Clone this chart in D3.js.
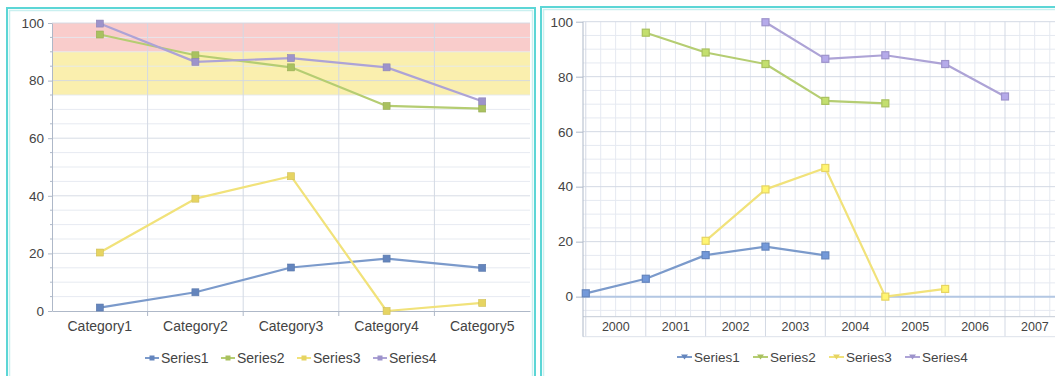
<!DOCTYPE html>
<html>
<head>
<meta charset="utf-8">
<script src="https://cdn.jsdelivr.net/npm/d3@7/dist/d3.min.js"></script>
<style>
  html, body { margin: 0; padding: 0; background: #ffffff; }
  svg { display: block; }
  text { font-family: "Liberation Sans", Arial, sans-serif; fill: #444444; }
</style>
</head>
<body>
<svg id="chart" width="1055" height="376"></svg>
<script>
// Shared data for both panels
const categories = ["Category1", "Category2", "Category3", "Category4", "Category5"];
const seriesNames = ["Series1", "Series2", "Series3", "Series4"];
const series1 = [1.2, 6.5, 15.1, 18.2, 15.0];
const series2 = [96.0, 88.8, 84.6, 71.2, 70.3];
const series3 = [20.3, 39.0, 46.8, 0.0, 2.8];
const series4 = [99.8, 86.5, 87.8, 84.6, 72.8];
const yTicks = [0, 20, 40, 60, 80, 100];
// Year of each series' first point on the dated panel
const seriesStartYear = [2000, 2001, 2002, 2003];
const yearLabels = [2000, 2001, 2002, 2003, 2004, 2005, 2006, 2007];
// Highlighted value ranges on the category panel
const bandLow = [90, 75];
const bandHigh = [100, 90];

const allSeries = [series1, series2, series3, series4];
const lineColors = ["#7b9acb", "#b5cd72", "#f1e27a", "#ada3d6"];
const markColors = ["#6485bd", "#a9c15f", "#e6d462", "#9d93cb"];
const bandColors = ["#f9cccb", "#faefae"];
const minorGrid = "#e5e9f1";
const majorGrid = "#d3d9e4";
const axisColor = "#aeb8c8";

const svg = d3.select("#chart");

// ---------- Left panel: category axis ----------
(function () {
  const left = svg.append("g");
  left.append("rect")
    .attr("x", 7).attr("y", 8).attr("width", 528).attr("height", 380)
    .attr("fill", "#ffffff").attr("stroke", "#5cd6d6").attr("stroke-width", 2);
  left.append("rect")
    .attr("x", 9.5).attr("y", 10.5).attr("width", 523).attr("height", 380)
    .attr("fill", "none").attr("stroke", "#c9f0f0").attr("stroke-width", 1.5);

  const x = d3.scaleBand().domain(categories).range([52, 530]);
  const y = d3.scaleLinear().domain([0, 100]).range([311, 23]);

  // value bands
  left.selectAll("rect.band").data(bandLow).enter().append("rect")
    .attr("class", "band")
    .attr("x", 52).attr("width", 478)
    .attr("y", (d, i) => y(bandHigh[i]))
    .attr("height", (d, i) => y(d) - y(bandHigh[i]))
    .attr("fill", (d, i) => bandColors[i]);

  // horizontal grid every 5
  left.selectAll("line.hg").data(d3.range(5, 101, 5)).enter().append("line")
    .attr("x1", 52).attr("x2", 530)
    .attr("y1", d => y(d)).attr("y2", d => y(d))
    .attr("stroke", d => d % 20 === 0 ? majorGrid : minorGrid).attr("stroke-width", 1)
    .attr("opacity", 0.9);

  // vertical grid at category boundaries
  left.selectAll("line.vg").data(categories.slice(1)).enter().append("line")
    .attr("x1", d => x(d)).attr("x2", d => x(d))
    .attr("y1", 23).attr("y2", 311)
    .attr("stroke", majorGrid);

  // y axis
  const yAxis = left.append("g").attr("transform", "translate(52,0)")
    .call(d3.axisLeft(y).tickValues(yTicks).tickSize(4).tickPadding(4).tickSizeOuter(0));
  yAxis.select(".domain").attr("stroke", axisColor);
  yAxis.selectAll(".tick line").attr("stroke", axisColor);
  yAxis.selectAll("text").style("font-size", "13.5px").attr("fill", "#444444");
  left.selectAll("line.mt").data(d3.range(5, 100, 5).filter(d => d % 20 !== 0)).enter().append("line")
    .attr("x1", 50).attr("x2", 52).attr("y1", d => y(d)).attr("y2", d => y(d))
    .attr("stroke", axisColor);

  // x axis
  const xAxis = left.append("g").attr("transform", "translate(0,311)")
    .call(d3.axisBottom(x).tickSize(0).tickPadding(10).tickSizeOuter(0));
  xAxis.select(".domain").attr("stroke", axisColor);
  xAxis.selectAll("text").style("font-size", "14px").attr("fill", "#444444");
  left.selectAll("line.xt").data(categories.slice(1)).enter().append("line")
    .attr("x1", d => x(d)).attr("x2", d => x(d))
    .attr("y1", 311).attr("y2", 316)
    .attr("stroke", axisColor);

  // series
  const cx = c => x(c) + x.bandwidth() / 2;
  allSeries.forEach((vals, s) => {
    const pts = vals.map((v, i) => [cx(categories[i]), y(v)]);
    left.append("path")
      .attr("d", d3.line()(pts))
      .attr("fill", "none").attr("stroke", lineColors[s]).attr("stroke-width", 2.2)
      .attr("stroke-linejoin", "round");
    left.selectAll(null).data(pts).enter().append("rect")
      .attr("x", d => d[0] - 3.5).attr("y", d => d[1] - 3.5)
      .attr("width", 7).attr("height", 7)
      .attr("fill", markColors[s]).attr("stroke", d3.color(markColors[s]).darker(0.3)).attr("stroke-width", 0.6);
  });

  // legend
  const lx = [145, 221, 297, 373];
  const ly = 358;
  seriesNames.forEach((name, s) => {
    const g = left.append("g").attr("transform", `translate(${lx[s]},${ly})`);
    g.append("line").attr("x1", 0).attr("x2", 14).attr("y1", 0).attr("y2", 0)
      .attr("stroke", lineColors[s]).attr("stroke-width", 2);
    g.append("rect").attr("x", 4.5).attr("y", -2.5).attr("width", 5).attr("height", 5)
      .attr("fill", markColors[s]);
    g.append("text").attr("x", 16).attr("y", 0).attr("dy", "0.35em")
      .style("font-size", "14px").text(name);
  });
})();

// ---------- Right panel: dated axis ----------
(function () {
  const right = svg.append("g");
  right.append("rect")
    .attr("x", 541).attr("y", 7).attr("width", 530).attr("height", 380)
    .attr("fill", "#ffffff").attr("stroke", "#5cd6d6").attr("stroke-width", 2);
  right.append("rect")
    .attr("x", 543.5).attr("y", 9.5).attr("width", 530).attr("height", 380)
    .attr("fill", "none").attr("stroke", "#c9f0f0").attr("stroke-width", 1.5);

  const x0 = 583, x1 = 1056, yTop = 21.7, yBot = 316.7, stripBot = 336.7;
  const x = d3.scaleTime()
    .domain([new Date(1999, 11, 15), new Date(2007, 10, 8)])
    .range([x0, x1]);
  const y = d3.scaleLinear().domain([-7.3, 100]).range([yBot, yTop]);

  // quarterly minor grid
  const quarters = d3.timeMonth.every(3).range(x.domain()[0], x.domain()[1]);
  right.selectAll("line.qg").data(quarters.filter(d => d.getMonth() !== 0)).enter().append("line")
    .attr("x1", d => x(d)).attr("x2", d => x(d))
    .attr("y1", yTop).attr("y2", yBot)
    .attr("stroke", minorGrid);

  // horizontal grid every 5
  right.selectAll("line.hg").data(d3.range(-5, 101, 5)).enter().append("line")
    .attr("x1", x0).attr("x2", x1)
    .attr("y1", d => y(d)).attr("y2", d => y(d))
    .attr("stroke", d => d % 20 === 0 ? majorGrid : minorGrid);

  // yearly grid, running through the label strip
  const yearStarts = d3.timeYear.range(x.domain()[0], x.domain()[1]);
  right.selectAll("line.yg").data(yearStarts).enter().append("line")
    .attr("x1", d => x(d)).attr("x2", d => x(d))
    .attr("y1", yTop).attr("y2", stripBot)
    .attr("stroke", majorGrid);

  // zero line
  right.append("line")
    .attr("x1", x0).attr("x2", x1).attr("y1", y(0)).attr("y2", y(0))
    .attr("stroke", "#b3c7e3").attr("stroke-width", 2);

  // label strip
  right.append("line").attr("x1", x0).attr("x2", x1).attr("y1", yBot).attr("y2", yBot)
    .attr("stroke", "#c3cad6");
  right.append("line").attr("x1", x0).attr("x2", x1).attr("y1", stripBot).attr("y2", stripBot)
    .attr("stroke", "#dde2ea");

  // y axis
  const yAxis = right.append("g").attr("transform", `translate(${x0},0)`)
    .call(d3.axisLeft(y).tickValues(yTicks).tickSize(7).tickPadding(3).tickSizeOuter(0));
  yAxis.select(".domain").remove();
  yAxis.selectAll(".tick line").attr("stroke", axisColor);
  yAxis.selectAll("text").style("font-size", "13.5px").attr("fill", "#444444");
  right.append("line").attr("x1", x0).attr("x2", x0).attr("y1", yTop).attr("y2", stripBot)
    .attr("stroke", axisColor);

  // year labels centred in each year
  right.selectAll("text.yr").data(yearLabels).enter().append("text")
    .attr("x", d => (x(new Date(d, 0, 1)) + x(new Date(d + 1, 0, 1))) / 2)
    .attr("y", (yBot + stripBot) / 2).attr("dy", "0.35em")
    .attr("text-anchor", "middle")
    .style("font-size", "12.5px").text(d => d);

  // series
  allSeries.forEach((vals, s) => {
    const pts = vals.map((v, i) => [x(new Date(seriesStartYear[s] + i, 0, 1)), y(v)]);
    right.append("path")
      .attr("d", d3.line()(pts))
      .attr("fill", "none").attr("stroke", lineColors[s]).attr("stroke-width", 2.2)
      .attr("stroke-linejoin", "round");
    right.selectAll(null).data(pts).enter().append("rect")
      .attr("x", d => d[0] - 3.5).attr("y", d => d[1] - 3.5)
      .attr("width", 7).attr("height", 7)
      .attr("fill", d3.color(markColors[s]).brighter(0.4))
      .attr("stroke", markColors[s]).attr("stroke-width", 1.2);
  });

  // legend
  const lx = [677, 753, 829, 905];
  const ly = 357;
  seriesNames.forEach((name, s) => {
    const g = right.append("g").attr("transform", `translate(${lx[s]},${ly})`);
    g.append("line").attr("x1", 0).attr("x2", 15).attr("y1", 0).attr("y2", 0)
      .attr("stroke", lineColors[s]).attr("stroke-width", 2);
    g.append("path").attr("d", "M4,-2.5 L11,-2.5 L7.5,2.5 Z")
      .attr("fill", markColors[s]);
    g.append("text").attr("x", 17).attr("y", 0).attr("dy", "0.35em")
      .style("font-size", "13.5px").text(name);
  });
})();
</script>
</body>
</html>
